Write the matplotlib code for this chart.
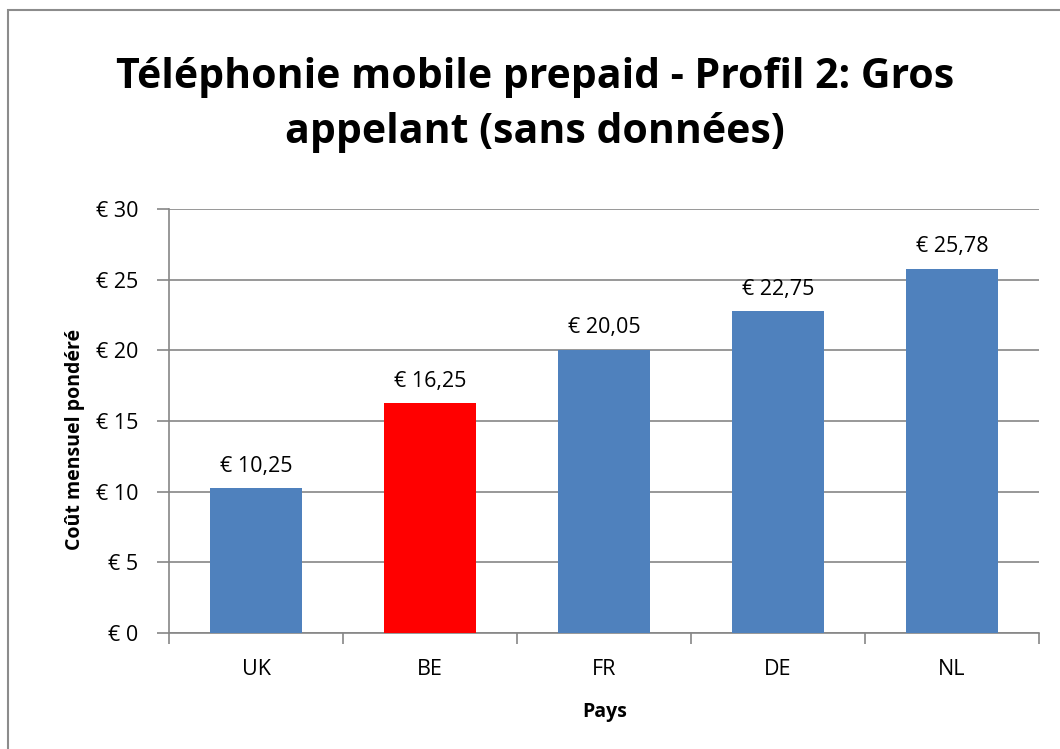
import matplotlib
matplotlib.use("Agg")
import matplotlib.pyplot as plt
from matplotlib.patches import Rectangle

pays = ["UK", "BE", "FR", "DE", "NL"]
couts = [10.25, 16.25, 20.05, 22.75, 25.78]
couleurs = ["#4F81BD", "#FF0000", "#4F81BD", "#4F81BD", "#4F81BD"]
yticks = [0, 5, 10, 15, 20, 25, 30]

plt.rcParams["font.family"] = ["Open Sans", "DejaVu Sans"]

fig = plt.figure(figsize=(10.6, 7.49), dpi=100)
# cadre du graphique (coupé à droite et en bas)
fig.patches.append(Rectangle((8 / 1060, -0.05), 1.2, 1.05 - 10 / 749, transform=fig.transFigure,
                             fill=False, edgecolor="#8c8c8c", linewidth=1.5))
ax = fig.add_axes([169 / 1060, 1 - 633 / 749, 870 / 1060, 424 / 749])

x = list(range(len(pays)))
ax.bar(x, couts, width=0.53, color=couleurs, zorder=3)
for xi, v in zip(x, couts):
    ax.text(xi, v + 0.8, "€ " + f"{v:.2f}".replace(".", ","), ha="center", va="bottom", fontsize=15.5)

ax.set_xlim(-0.5, len(pays) - 0.5)
ax.set_ylim(0, 30)
ax.set_yticks(yticks)
ax.set_yticklabels(["€ %d" % t for t in yticks], fontsize=15.5)
ax.set_xticks(x)
ax.set_xticklabels(pays, fontsize=15.5)
ax.tick_params(axis="x", length=0, pad=19)
ax.set_xticks([i - 0.5 for i in range(len(pays) + 1)], minor=True)
ax.tick_params(axis="x", which="minor", length=8, color="#868686", width=1.2)
ax.tick_params(axis="y", length=9, color="#868686", width=1.2, pad=13)
ax.grid(axis="y", color="#868686", linewidth=1.2, zorder=0)
for s in ["top", "right"]:
    ax.spines[s].set_visible(False)
for s in ["left", "bottom"]:
    ax.spines[s].set_color("#868686")
    ax.spines[s].set_linewidth(1.2)

ax.set_xlabel("Pays", fontsize=14, fontweight="bold")
ax.xaxis.set_label_coords(0.501, -0.163)
ax.set_ylabel("Coût mensuel pondéré", fontsize=14, fontweight="bold")
ax.yaxis.set_label_coords(-0.096, 0.457)

fig.text(0.505, 0.86, "Téléphonie mobile prepaid - Profil 2: Gros\nappelant (sans données)",
         ha="center", va="center", fontsize=29.5, fontweight="bold", linespacing=1.43)

fig.savefig("out.png", dpi=100)
